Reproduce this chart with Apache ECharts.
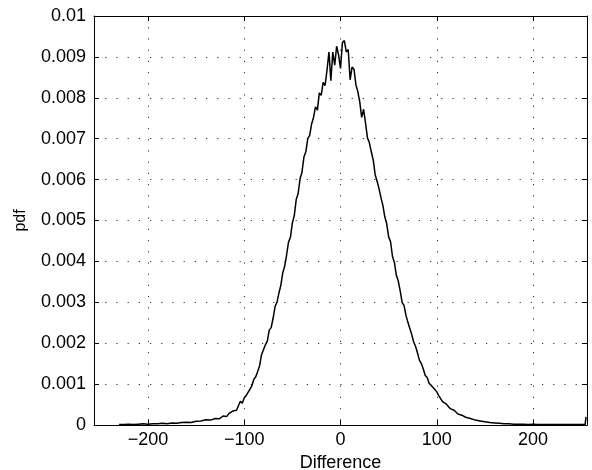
<!DOCTYPE html>
<html>
<head>
<meta charset="utf-8">
<script src="https://cdn.jsdelivr.net/npm/echarts@6/dist/echarts.min.js"></script>
<style>
  html, body { margin: 0; padding: 0; background: #fff; }
  #main { width: 592px; height: 470px; }
</style>
</head>
<body>
<div id="main"></div>
<script>
// x positions of the curve (difference values) and the pdf
var leftTailX = [-230, -225, -220, -215, -210, -205, -200, -195, -190, -185, -180, -175, -170, -165, -160, -155, -150, -145, -140, -135, -130];
var leftTailY = [0.00001, 0.00001, 0.00002, 0.00001, 0.00002, 0.00003, 0.00002, 0.00003, 0.00003, 0.00004, 0.00003, 0.00005, 0.00004, 0.00006, 0.00007, 0.00006, 0.00009, 0.00010, 0.00013, 0.00012, 0.00016];

var centerStart = -128, centerStep = 2;
var centerY = [
  0.00017, 0.00015, 0.00019, 0.00022, 0.00024, 0.00021, 0.00028, 0.00026, 0.00034, 0.00038,
  0.00036, 0.00047, 0.00058, 0.00053, 0.00066, 0.00072, 0.00069, 0.00088, 0.00096, 0.00112,
  0.00118, 0.00131, 0.00145, 0.00172, 0.00168, 0.00196, 0.00205, 0.00232, 0.00238, 0.00261,
  0.00289, 0.00300, 0.00322, 0.00341, 0.00372, 0.00388, 0.00415, 0.00447, 0.00459, 0.00494,
  0.00512, 0.00551, 0.00566, 0.00602, 0.00618, 0.00655, 0.00668, 0.00700, 0.00708, 0.00736,
  0.00752, 0.00778, 0.00770, 0.00812, 0.00806, 0.00838, 0.00830, 0.00868, 0.00912, 0.00842,
  0.00912, 0.00880, 0.00926, 0.00905, 0.00872, 0.00935, 0.00940, 0.00912, 0.00918, 0.00844,
  0.00875, 0.00870, 0.00832, 0.00815, 0.00790, 0.00752, 0.00772, 0.00738, 0.00702, 0.00690,
  0.00668, 0.00648, 0.00612, 0.00596, 0.00578, 0.00556, 0.00537, 0.00509, 0.00492, 0.00460,
  0.00448, 0.00412, 0.00397, 0.00366, 0.00352, 0.00328, 0.00300, 0.00292, 0.00268, 0.00251,
  0.00236, 0.00221, 0.00203, 0.00192, 0.00176, 0.00158, 0.00150, 0.00137, 0.00121, 0.00116,
  0.00102, 0.00097, 0.00093, 0.00087, 0.00081, 0.00072, 0.00068, 0.00057, 0.00060, 0.00051,
  0.00047, 0.00040, 0.00044, 0.00036, 0.00033, 0.00027, 0.00030, 0.00024, 0.00021
];

var rightTailX = [130, 135, 140, 145, 150, 155, 160, 165, 170, 175, 180, 185, 190, 195, 200, 205, 210, 215, 220, 225, 230, 235, 240, 245, 250, 254, 255];
var rightTailY = [0.00019, 0.00016, 0.00012, 0.00010, 0.00008, 0.00006, 0.00005, 0.00004, 0.00003, 0.00003, 0.00002, 0.00002, 0.00002, 0.00001, 0.00002, 0.00001, 0.00001, 0.00001, 0.00001, 0.00001, 0.00001, 0.00001, 0.00001, 0.00001, 0.00001, 0.00001, 0.00020];

var xTicks = [-200, -100, 0, 100, 200];

var data = [];
leftTailX.forEach(function (x, i) { data.push([x, leftTailY[i]]); });
centerY.forEach(function (y, i) { data.push([centerStart + i * centerStep, y]); });
rightTailX.forEach(function (x, i) { data.push([x, rightTailY[i]]); });

var font = 'Liberation Sans, Arial, Helvetica, sans-serif';
var dotted = { color: '#333', width: 1, type: [1.2, 10] };

function xAxisDef(pos, showLabel) {
  return {
    type: 'value', position: pos, min: -256, max: 256,
    axisLine: { show: true, onZero: false, lineStyle: { color: '#000', width: 1 } },
    axisTick: { show: true, inside: true, length: 5, customValues: xTicks, lineStyle: { color: '#000' } },
    axisLabel: {
      show: showLabel, customValues: xTicks, margin: 6, color: '#000', fontSize: 18, fontFamily: font,
      formatter: function (v) { return String(v).replace('-', '\u2212'); }
    },
    splitLine: { show: showLabel, lineStyle: dotted }
  };
}

function yAxisDef(pos, showLabel) {
  return {
    type: 'value', position: pos, min: 0, max: 0.01, interval: 0.001,
    axisLine: { show: true, onZero: false, lineStyle: { color: '#000', width: 1 } },
    axisTick: { show: true, inside: true, length: 5, lineStyle: { color: '#000' } },
    axisLabel: {
      show: showLabel, margin: 8, color: '#000', fontSize: 18, fontFamily: font,
      formatter: function (v) { return v === 0 ? '0' : String(+v.toFixed(3)); }
    },
    splitLine: { show: showLabel, lineStyle: dotted }
  };
}

var xBottom = xAxisDef('bottom', true);
xBottom.name = 'Difference';
xBottom.nameLocation = 'middle';
xBottom.nameGap = 22;
xBottom.nameTextStyle = { color: '#000', fontSize: 18, fontFamily: font };

var yLeft = yAxisDef('left', true);
yLeft.name = 'pdf';
yLeft.nameLocation = 'middle';
yLeft.nameRotate = 90;
yLeft.nameGap = 65;
yLeft.nameTextStyle = { color: '#000', fontSize: 16, fontFamily: font };

var chart = echarts.init(document.getElementById('main'), null, { renderer: 'canvas' });
chart.setOption({
  animation: false,
  backgroundColor: '#fff',
  grid: { left: 94, right: 5, top: 16, bottom: 45, show: false, outerBoundsMode: 'none' },
  xAxis: [xBottom, xAxisDef('top', false)],
  yAxis: [yLeft, yAxisDef('right', false)],
  series: [{
    type: 'line',
    xAxisIndex: 0,
    yAxisIndex: 0,
    data: data,
    showSymbol: false,
    lineStyle: { color: '#000', width: 1.5 }
  }]
});
</script>
</body>
</html>
